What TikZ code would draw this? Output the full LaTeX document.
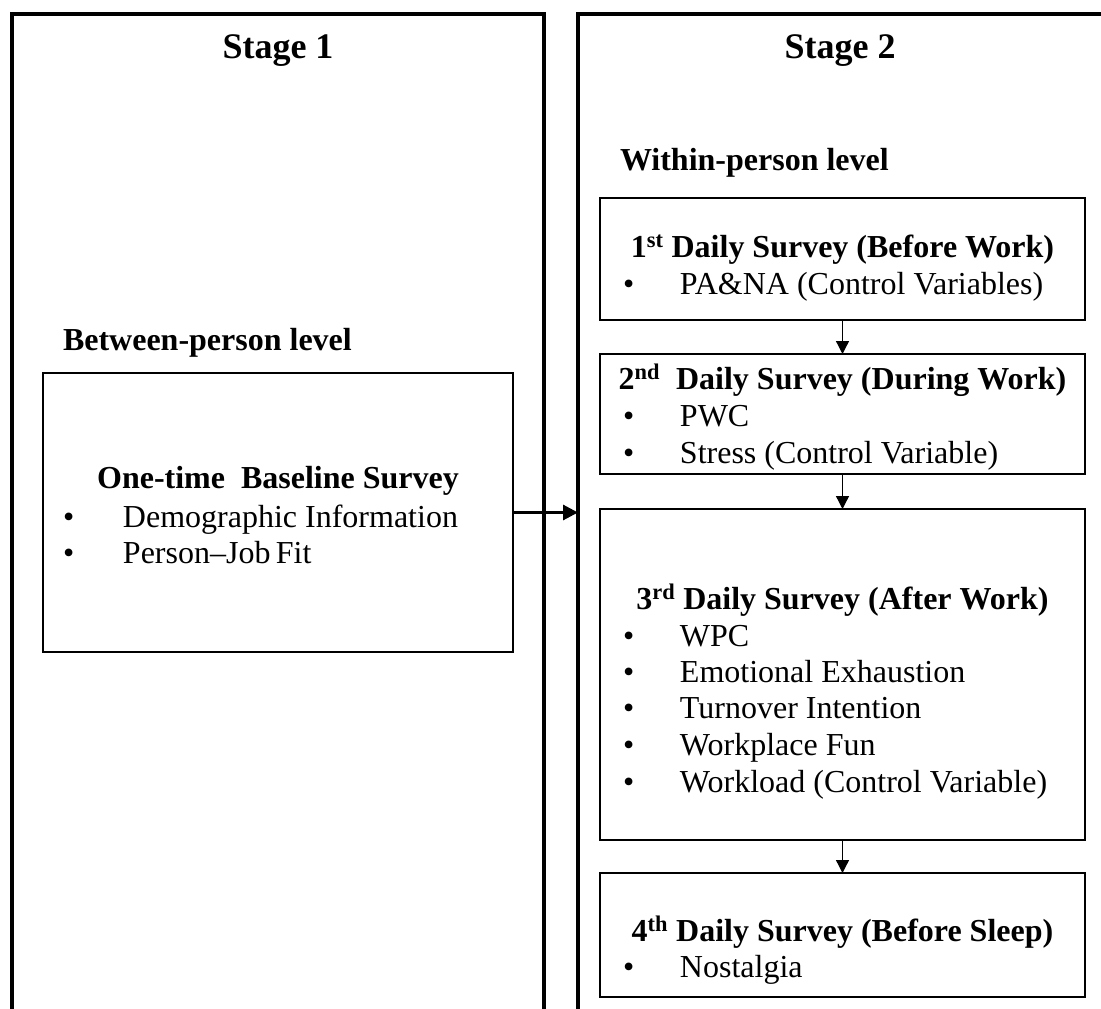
\documentclass[tikz,border=0pt]{standalone}
\usepackage{fontspec}
\setmainfont{Liberation Serif}
\usetikzlibrary{arrows.meta}

\begin{document}
\begin{tikzpicture}[x=1pt,y=-1pt,
  every node/.style={inner sep=0pt,outer sep=0pt},
  stagebox/.style={shape=rectangle,draw,line width=3.5pt},
  surveybox/.style={shape=rectangle,draw,line width=2pt,minimum width=485pt},
  stagehead/.style={anchor=base,font=\fontsize{36}{40}\selectfont\bfseries},
  levelhead/.style={anchor=base west,font=\fontsize{32}{37}\selectfont\bfseries},
  boxtitle/.style={anchor=base,font=\fontsize{32}{37}\selectfont\bfseries},
  item/.style={anchor=base west,font=\fontsize{32}{37}\selectfont},
  thinarrow/.style={line width=1.3pt,-{Triangle[length=13pt,width=13pt]}},
  thickarrow/.style={line width=3pt,-{Triangle[length=15pt,width=15pt]}}]
\clip (0,0) rectangle (1101,1009);

% stages
\path (278,527) node (stage1) [stagebox, minimum width=532pt, minimum height=1026pt] {};
\path (849,527) node (stage2) [stagebox, minimum width=542pt, minimum height=1026pt] {};
\path (278,58) node (h1) [stagehead] {Stage 1};
\path (840,58) node (h2) [stagehead] {Stage 2};

% between-person level
\path (63,350) node (between) [levelhead] {Between-person level};
\path (278,512.5) node (base) [surveybox, minimum width=470pt, minimum height=279pt] {};
\path (278,488) node (baset) [boxtitle] {One-time\ \ Baseline Survey};
\path (63,527) node (basei1) [item] {\makebox[60pt][l]{\textbullet}Demographic Information};
\path (63,563) node (basei2) [item] {\makebox[60pt][l]{\textbullet}Person--Job\,Fit};

% within-person level
\path (620,170) node (within) [levelhead] {Within-person level};

\path (842.5,259) node (d1) [surveybox, minimum height=122pt] {};
\path (842.5,257) node (d1t) [boxtitle] {1\textsuperscript{st} Daily Survey (Before Work)};
\path (623,294) node (d1i1) [item] {\makebox[57pt][l]{\textbullet}PA\&NA (Control Variables)};

\path (842.5,414) node (d2) [surveybox, minimum height=120pt] {};
\path (842.5,389) node (d2t) [boxtitle] {2\textsuperscript{nd}\ \ Daily Survey (During Work)};
\path (623,426) node (d2i1) [item] {\makebox[57pt][l]{\textbullet}PWC};
\path (623,463) node (d2i2) [item] {\makebox[57pt][l]{\textbullet}Stress (Control Variable)};

\path (842.5,674.5) node (d3) [surveybox, minimum height=331pt] {};
\path (842.5,609) node (d3t) [boxtitle] {3\textsuperscript{rd} Daily Survey (After Work)};
\path (623,646) node (d3i1) [item] {\makebox[57pt][l]{\textbullet}WPC};
\path (623,682) node (d3i2) [item] {\makebox[57pt][l]{\textbullet}Emotional Exhaustion};
\path (623,718) node (d3i3) [item] {\makebox[57pt][l]{\textbullet}Turnover Intention};
\path (623,755) node (d3i4) [item] {\makebox[57pt][l]{\textbullet}Workplace Fun};
\path (623,792) node (d3i5) [item] {\makebox[57pt][l]{\textbullet}Workload (Control Variable)};

\path (842.5,935) node (d4) [surveybox, minimum height=124pt] {};
\path (842.5,941) node (d4t) [boxtitle] {4\textsuperscript{th} Daily Survey (Before Sleep)};
\path (623,977) node (d4i1) [item] {\makebox[57pt][l]{\textbullet}Nostalgia};

% arrows
\draw[thickarrow] (base.east) -- (base.east -| stage2.west);
\draw[thinarrow] (d1.south) -- (d2.north);
\draw[thinarrow] (d2.south) -- (d3.north);
\draw[thinarrow] (d3.south) -- (d4.north);

\end{tikzpicture}
\end{document}
